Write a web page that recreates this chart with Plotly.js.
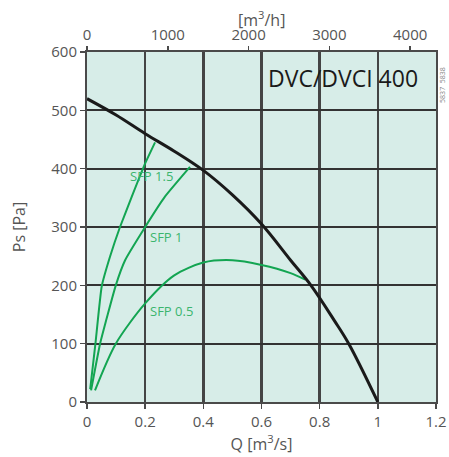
<!DOCTYPE html>
<html><head><meta charset="utf-8">
<script src="https://cdn.plot.ly/plotly-3.0.1.min.js"></script>
<style>body{margin:0;background:#fff}#c{width:449px;height:457px}</style>
</head><body><div id="c"></div>
<script>
const fanQ  = [0, 0.1, 0.2, 0.3, 0.4, 0.5, 0.6, 0.7, 0.77, 0.85, 0.9, 1.0];
const fanPs = [520, 492, 460, 430, 397, 355, 305, 243, 200, 140, 100, 0];
const sfp05Q  = [0.0275, 0.099, 0.2, 0.3, 0.4, 0.5, 0.6, 0.7, 0.75];
const sfp05Ps = [20, 100, 169, 217, 239, 243, 235, 221, 210];
const sfp1Q  = [0.014, 0.045, 0.099, 0.131, 0.2, 0.268, 0.354];
const sfp1Ps = [20, 100, 200, 243, 300, 352, 403];
const sfp15Q  = [0.011, 0.029, 0.0505, 0.079, 0.1135, 0.154, 0.2, 0.234];
const sfp15Ps = [22, 100, 198, 249, 300, 352, 409, 445];
const topRange = [0, 4320];
const labels = [
  {text: 'SFP 1.5', q: 0.141, ps: 387},
  {text: 'SFP 1',   q: 0.21,  ps: 283},
  {text: 'SFP 0.5', q: 0.21,  ps: 156}
];
const green = '#13a552';
const font = 'Open Sans, Noto Sans, DejaVu Sans, sans-serif';
const traces = [
  {x: sfp05Q, y: sfp05Ps, mode: 'lines', line: {color: green, width: 2, shape: 'spline', smoothing: 0.8}},
  {x: sfp1Q, y: sfp1Ps, mode: 'lines', line: {color: green, width: 2, shape: 'spline', smoothing: 0.4}},
  {x: sfp15Q, y: sfp15Ps, mode: 'lines', line: {color: green, width: 2, shape: 'spline', smoothing: 0.4}},
  {x: fanQ, y: fanPs, mode: 'lines', line: {color: '#1a1a1a', width: 3, shape: 'spline'}},
  {x: topRange, y: [0, 0], xaxis: 'x2', mode: 'lines', line: {width: 0}, opacity: 0, hoverinfo: 'skip'}
];
const anns = labels.map(l => ({x: l.q, y: l.ps, text: l.text, showarrow: false, xanchor: 'left', yanchor: 'middle',
  font: {family: font, size: 13, color: '#3bb56e'}}));
anns.push({xref: 'paper', yref: 'paper', x: 0.955, y: 0.925, xanchor: 'right', yanchor: 'middle', showarrow: false,
  text: 'DVC/DVCI 400', font: {family: font, size: 23, color: '#1a1a1a'}});
anns.push({xref: 'paper', yref: 'paper', x: 1.02, y: 0.906, xanchor: 'center', yanchor: 'middle', showarrow: false,
  text: '5837  5838', textangle: -90, font: {family: font, size: 7, color: '#888'}});
anns.push({xref: 'paper', yref: 'paper', x: 0.5, y: 1.095, xanchor: 'center', yanchor: 'middle', showarrow: false,
  text: '[m<sup>3</sup>/h]', font: {family: font, size: 16, color: '#555'}});
const layout = {
  width: 449, height: 457,
  margin: {l: 87, r: 13, t: 52, b: 55},
  paper_bgcolor: '#fff', plot_bgcolor: '#d7ede8',
  showlegend: false,
  font: {family: font, color: '#555', size: 15},
  xaxis: {range: [0, 1.2], dtick: 0.2, tick0: 0, showgrid: true, gridcolor: '#444', gridwidth: 2.5,
    zeroline: false, showline: true, linecolor: '#4a4a4a', linewidth: 2, mirror: true,
    ticks: 'outside', ticklen: 5, tickcolor: '#4a4a4a', tickwidth: 1.5,
    tickfont: {size: 15, color: '#555'},
    title: {text: 'Q [m<sup>3</sup>/s]', font: {size: 16, color: '#555'}, standoff: 4}},
  xaxis2: {range: topRange, overlaying: 'x', side: 'top', anchor: 'y', dtick: 1000, tick0: 0,
    showgrid: false, zeroline: false, ticks: 'outside', ticklen: 5, tickcolor: '#4a4a4a', tickwidth: 1.5,
    tickfont: {size: 15, color: '#555'}},
  yaxis: {range: [0, 600], dtick: 100, showgrid: true, gridcolor: '#333', gridwidth: 2,
    zeroline: false, showline: true, linecolor: '#4a4a4a', linewidth: 2, mirror: true,
    ticks: 'outside', ticklen: 5, tickcolor: '#4a4a4a', tickwidth: 1.5,
    tickfont: {size: 15, color: '#555'},
    title: {text: 'Ps [Pa]', font: {size: 16, color: '#555'}, standoff: 22}},
  annotations: anns
};
Plotly.newPlot('c', traces, layout, {displayModeBar: false, staticPlot: true});
</script></body></html>
